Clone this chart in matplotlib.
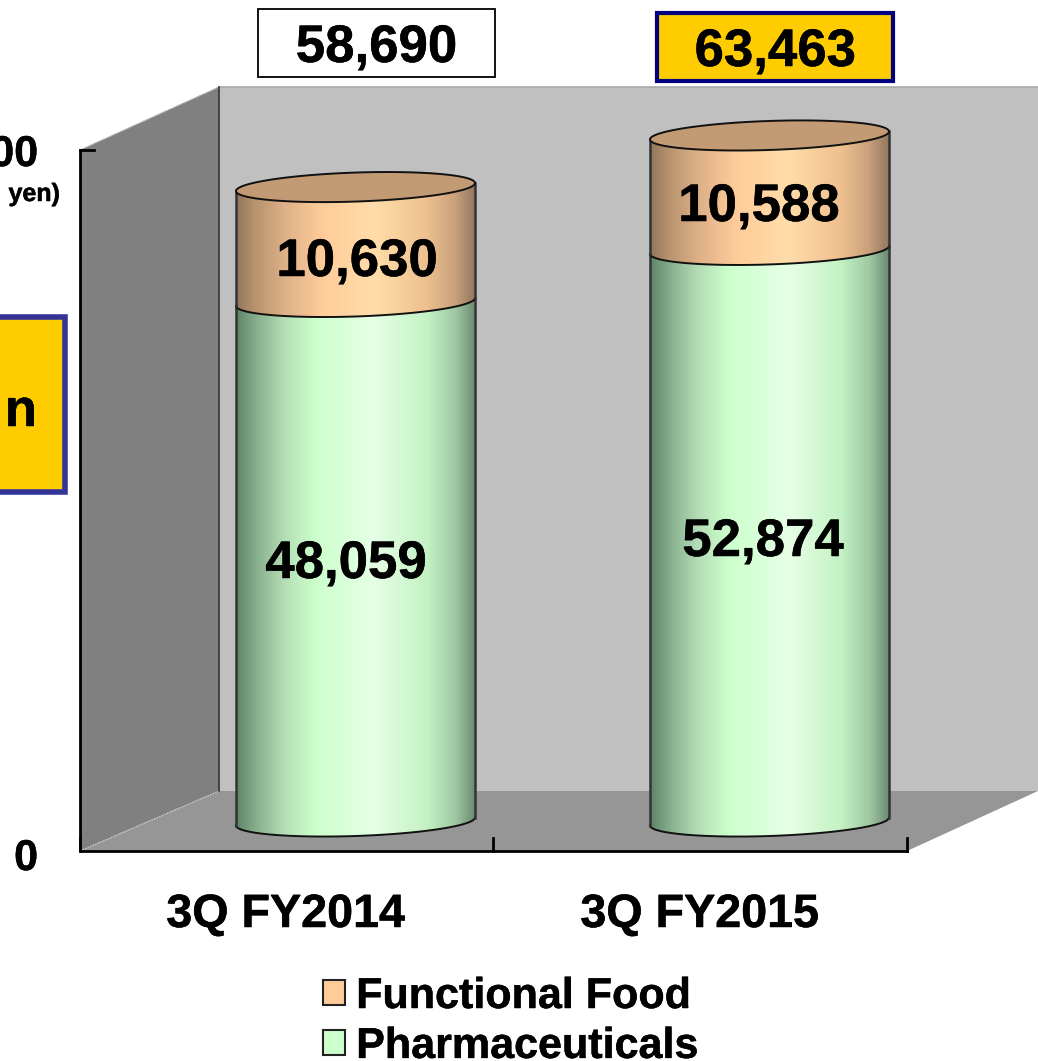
import numpy as np
import matplotlib
matplotlib.use('Agg')
import matplotlib.pyplot as plt
from matplotlib.colors import LinearSegmentedColormap
from matplotlib.patches import Polygon, Patch, Rectangle
import matplotlib.patheffects as pe

plt.rcParams['font.family'] = ['Liberation Sans', 'DejaVu Sans']
plt.rcParams['font.weight'] = 'bold'

categories = ['3Q FY2014', '3Q FY2015']
pharma = [48059, 52874]
food = [10630, 10588]
totals = [58690, 63463]
series_names = ['Functional Food', 'Pharmaceuticals']

# pixels of the picture <-> chart values
W, H = 1038, 1061
PX_PER_UNIT = 0.01081
BASE_PX = 825.5
CAT0_PX = 355.5
CAT_STEP = 414
BAR_W = 239 / CAT_STEP
ELL_B = 14.5 / PX_PER_UNIT
TILT = 4 / PX_PER_UNIT

orange_cm = LinearSegmentedColormap.from_list('o', [(0, '#94765C'), (0.08, '#B8946F'), (0.2, '#DDB088'),
    (0.36, '#FFCC99'), (0.58, '#FFDDAA'), (0.8, '#EFC08F'), (0.92, '#C8A07C'), (1, '#937860')])
green_cm = LinearSegmentedColormap.from_list('g', [(0, '#5E8468'), (0.08, '#85AD8B'), (0.2, '#B4DDB6'),
    (0.33, '#CCFFCC'), (0.58, '#E6FFE6'), (0.8, '#C4F2C4'), (0.92, '#A0C8A3'), (1, '#6C8C72')])

fig = plt.figure(figsize=(W / 100, H / 100), dpi=100)

# walls and floor, in picture pixels
bg = fig.add_axes([0, 0, 1, 1], zorder=0)
bg.set_xlim(0, W)
bg.set_ylim(H, 0)
bg.axis('off')
bg.add_patch(Polygon([(219, 87), (1038, 87), (1038, 791), (219, 791)], fc='#C0C0C0', ec='none'))
bg.plot([219, 1038], [87, 87], color='#A8A8A8', lw=1.2)
bg.add_patch(Polygon([(80, 150), (219, 87), (219, 791), (80, 851)], fc='#808080', ec='none'))
bg.add_patch(Polygon([(80, 851), (219, 791), (1038, 791), (907, 851)], fc='#969696', ec='none'))
bg.plot([80, 219], [851, 791], color='#C8C8C8', lw=1, ls=(0, (1, 1)))
bg.plot([80, 219], [150, 87], color='#B0B0B0', lw=1, ls=(0, (1, 1)))
bg.plot([219, 219], [87, 791], color='#333333', lw=1.2)
bg.plot([80, 80, 907], [150, 851, 851], color='black', lw=2)
bg.plot([80, 94], [150, 150], color='black', lw=2)
for tx in [80, 493, 907]:
    bg.plot([tx, tx], [851, 838], color='black', lw=2)

# chart area, in category / value units
ax = fig.add_axes([0, 0, 1, 1], zorder=1)
ax.patch.set_visible(False)
ax.axis('off')


def rim(cx, v, t):
    # tilted ellipse; v is the height of its left end
    x = cx + BAR_W / 2 * np.cos(t)
    y = v + TILT + TILT * np.cos(t) - ELL_B * np.sin(t)
    return x, y


def segment(cx, v0, v1, cmap, top_color=None):
    front = np.linspace(np.pi, 0, 80)   # lower arc, left to right
    x0, y0 = rim(cx, v0, front)
    x1, y1 = rim(cx, v1, front)
    grad = np.linspace(0, 1, 256).reshape(1, -1)
    im = ax.imshow(grad, cmap=cmap, aspect='auto', interpolation='bilinear',
                   extent=(cx - BAR_W / 2, cx + BAR_W / 2, v0 - 2 * ELL_B, v1 + 2 * ELL_B), zorder=2)
    body = Polygon(np.c_[np.r_[x0, x1[::-1]], np.r_[y0, y1[::-1]]], fc='none', ec='none')
    ax.add_patch(body)
    im.set_clip_path(body)
    ax.plot(x0, y0, color='#111111', lw=1.4, zorder=3)
    ax.plot([x0[0], x0[0]], [y0[0], y1[0]], color='#333333', lw=1.8, zorder=3)
    ax.plot([x0[-1], x0[-1]], [y0[-1], y1[-1]], color='#333333', lw=1.8, zorder=3)
    if top_color:
        t = np.linspace(0, 2 * np.pi, 160)
        ex, ey = rim(cx, v1, t)
        ax.fill(ex, ey, fc=top_color, ec='#111111', lw=1.4, zorder=4)


for i in range(len(categories)):
    segment(i, 0, pharma[i], green_cm)
    segment(i, pharma[i], totals[i], orange_cm, top_color='#C29A74')

ax.set_xlim((0 - CAT0_PX) / CAT_STEP, (W - CAT0_PX) / CAT_STEP)
ax.set_ylim((BASE_PX - H) / PX_PER_UNIT, BASE_PX / PX_PER_UNIT)

# texts, placed in picture pixels
tr = bg.transData
heavy = [pe.withStroke(linewidth=0.35, foreground='black')]


def label(px, py, s, size, ha='center'):
    ax.text(px, py, s, transform=tr, ha=ha, va='center', fontsize=size, zorder=6, path_effects=heavy)


big = 38
for i, (px, py) in enumerate([(346, 564), (763, 542)]):
    label(px, py, f'{pharma[i]:,}', big)
for i, (px, py) in enumerate([(357, 262), (759, 207)]):
    label(px, py, f'{food[i]:,}', big)

box_styles = [((258, 9, 237, 68), 'white', 'black', 1.3), ((657, 13, 236, 68), '#FFCC00', '#000080', 3)]
for i, ((bx, by, bw, bh), fc, ec, lw) in enumerate(box_styles):
    ax.add_patch(Rectangle((bx, by), bw, bh, transform=tr, fc=fc, ec=ec, lw=lw, zorder=5))
    label(bx + bw / 2, by + bh / 2 + 5, f'{totals[i]:,}', big)

ax.add_patch(Rectangle((-20, 317), 85, 175, transform=tr, fc='#FFCC00', ec='#333399', lw=4, zorder=5))
label(37, 412, 'n', big, ha='right')

label(38, 155, '00', 31, ha='right')
label(38, 859, '0', 31, ha='right')
label(60, 194, 'yen)', 18, ha='right')

for i, c in enumerate(categories):
    label(285.5 + i * CAT_STEP, 915, c, 33.6)

handles = [Patch(fc='#FFCC99', ec='#222222', lw=1.5), Patch(fc='#CCFFCC', ec='#222222', lw=1.5)]
leg = ax.legend(handles, series_names, loc='upper left', bbox_to_anchor=(323 / W, 1 - 977 / H),
                bbox_transform=fig.transFigure, frameon=False, fontsize=31, handlelength=0.52, handleheight=0.52,
                handletextpad=0.25, labelspacing=0.23, borderpad=0, borderaxespad=0)
for txt in leg.get_texts():
    txt.set_path_effects(heavy)

fig.savefig('out.png', dpi=100)
